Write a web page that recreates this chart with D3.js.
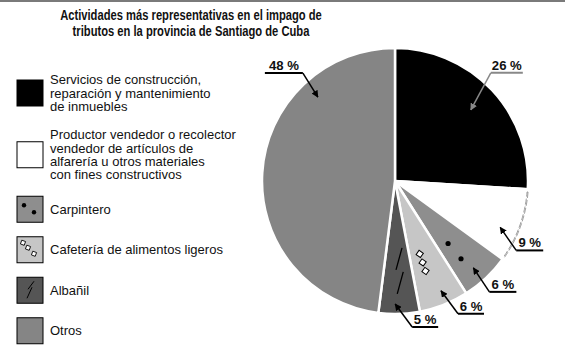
<!DOCTYPE html>
<html>
<head>
<meta charset="utf-8">
<script src="https://d3js.org/d3.v7.min.js"></script>
<style>
  body { margin: 0; background: #fff; }
  svg text { font-family: "Liberation Sans", Arial, sans-serif; }
</style>
</head>
<body>
<svg id="chart"></svg>
<script>
// data
const categories = [
  "Servicios de construcción,\nreparación y mantenimiento\nde inmuebles",
  "Productor vendedor o recolector\nvendedor de artículos  de\nalfarería u otros materiales\ncon fines constructivos",
  "Carpintero",
  "Cafetería de alimentos ligeros",
  "Albañil",
  "Otros"
];
const values = [26, 9, 6, 6, 5, 48];
const labels = ["26 %", "9 %", "6 %", "6 %", "5 %", "48 %"];
const fills = ["#000000", "#ffffff", "#8e8e8e", "#c6c6c6", "#555555", "#858585"];
const marks = ["", "", "dots", "squares", "slashes", ""];
const titleLines = ["Actividades más representativas en el impago de",
                    "tributos en la provincia de Santiago de Cuba"];

const W = 565, H = 362;
const svg = d3.select("#chart").attr("width", W).attr("height", H);

// squeeze a text group horizontally around x0 by factor k
function squeeze(sel, x0, k) {
  sel.attr("transform", `translate(${x0},0) scale(${k},1) translate(${-x0},0)`);
}
function widest(sel) {
  let w = 0;
  sel.selectAll("text").each(function () { w = Math.max(w, this.getComputedTextLength()); });
  return w;
}

// top border
svg.append("rect").attr("x", 0).attr("y", 0).attr("width", W).attr("height", 2).attr("fill", "#7a7a7a");

// title
const title = svg.append("g");
title.selectAll("text")
  .data(titleLines)
  .enter().append("text")
  .attr("x", 191)
  .attr("y", (d, i) => 20.5 + i * 16)
  .attr("text-anchor", "middle")
  .attr("font-size", 14.5)
  .attr("font-weight", "bold")
  .attr("fill", "#111")
  .text(d => d);
squeeze(title, 191, 262 / widest(title));

// arrow markers
const defs = svg.append("defs");
["#000", "#888"].forEach((c, i) => {
  defs.append("marker")
    .attr("id", "arr" + i)
    .attr("viewBox", "0 0 10 10")
    .attr("refX", 9).attr("refY", 5)
    .attr("markerWidth", 7).attr("markerHeight", 7)
    .attr("markerUnits", "userSpaceOnUse")
    .attr("orient", "auto")
    .append("path").attr("d", "M0,0 L10,5 L0,10 z").attr("fill", c);
});

// pie
const cx = 395, cy = 181, R = 133;
const pie = d3.pie().sort(null).value(d => d);
const arcs = pie(values);
const arc = d3.arc().innerRadius(0).outerRadius(R);
const g = svg.append("g").attr("transform", `translate(${cx},${cy})`);

g.selectAll("path.slice")
  .data(arcs)
  .enter().append("path")
  .attr("class", "slice")
  .attr("d", arc)
  .attr("fill", (d, i) => fills[i])
  .attr("stroke", "#fff")
  .attr("stroke-width", 2.5)
  .attr("stroke-linejoin", "round");

// dashed rim on the white slice
const rim = d3.arc().innerRadius(R - 0.5).outerRadius(R + 0.5);
g.append("path")
  .attr("d", rim({ startAngle: arcs[1].startAngle + 0.02, endAngle: arcs[1].endAngle - 0.02 }))
  .attr("fill", "none")
  .attr("stroke", "#888")
  .attr("stroke-width", 0.8)
  .attr("stroke-dasharray", "6,2");

// polar helper: angle clockwise from north
const pt = (a, r) => [Math.sin(a) * r, -Math.cos(a) * r];
const mid = d => (d.startAngle + d.endAngle) / 2;

// marks inside slices
arcs.forEach((d, i) => {
  const a = mid(d) + 0.05;
  if (marks[i] === "dots") {
    [82, 102].forEach(r => {
      const p = pt(a, r);
      g.append("circle").attr("cx", p[0]).attr("cy", p[1]).attr("r", 2.6).attr("fill", "#000");
    });
  } else if (marks[i] === "squares") {
    [77, 86, 95].forEach(r => {
      const p = pt(a, r);
      g.append("rect").attr("x", -2.6).attr("y", -2.6).attr("width", 5.2).attr("height", 5.2)
        .attr("transform", `translate(${p[0]},${p[1]}) rotate(35)`)
        .attr("fill", "#fff").attr("stroke", "#000").attr("stroke-width", 1);
    });
  } else if (marks[i] === "slashes") {
    [78, 102].forEach(r => {
      const p = pt(mid(d) - 0.02, r);
      g.append("line")
        .attr("x1", p[0] + 3).attr("y1", p[1] - 11)
        .attr("x2", p[0] - 3).attr("y2", p[1] + 11)
        .attr("stroke", "#000").attr("stroke-width", 1.3);
    });
  }
});

// callouts: tip angle shift, tip radius, tail offset from tip, underline side
const callouts = [
  { da: 0,     r: 104, dx: 20,  dy: -37, side: 1,  len: 32, color: 1 },
  { da: 0.07,  r: 115, dx: 16,  dy: 23,  side: 1,  len: 27, color: 0 },
  { da: 0.02,  r: 117, dx: 16,  dy: 24,  side: 1,  len: 27, color: 0 },
  { da: -0.02, r: 119, dx: 17,  dy: 23,  side: 1,  len: 26, color: 0 },
  { da: 0.03,  r: 123, dx: 17,  dy: 23,  side: 1,  len: 26, color: 0 },
  { da: 0.765, r: 114, dx: -15, dy: -24, side: -1, len: 38, color: 0 }
];

const labG = g.append("g");
arcs.forEach((d, i) => {
  const c = callouts[i];
  const tip = pt(mid(d) + c.da, c.r);
  const tail = [tip[0] + c.dx, tip[1] + c.dy];
  const col = c.color ? "#888" : "#000";
  g.append("line")
    .attr("x1", tail[0]).attr("y1", tail[1])
    .attr("x2", tip[0]).attr("y2", tip[1])
    .attr("stroke", col).attr("stroke-width", 1.5)
    .attr("marker-end", `url(#arr${c.color})`);
  const xEnd = tail[0] + c.side * c.len;
  g.append("line")
    .attr("x1", tail[0]).attr("y1", tail[1])
    .attr("x2", xEnd).attr("y2", tail[1])
    .attr("stroke", col).attr("stroke-width", 2);
  const lab = labG.append("g").attr("class", "lab").datum((tail[0] + xEnd) / 2);
  lab.append("text")
    .attr("x", (tail[0] + xEnd) / 2)
    .attr("y", tail[1] - 3)
    .attr("text-anchor", "middle")
    .attr("font-size", 13.5)
    .attr("font-weight", "bold")
    .attr("fill", "#111")
    .text(labels[i]);
});
// one squeeze factor for all percentage labels, fitted to the widest
const kP = 30 / widest(labG);
labG.selectAll("g.lab").each(function (x0) { squeeze(d3.select(this), x0, kP); });

// legend
const lineH = 13.5, boxS = 26, gap = 14.5;
const lines = categories.map(s => s.split("\n"));
const heights = lines.map(l => Math.max(boxS, l.length * lineH));
const centers = [];
heights.forEach((h, i) => {
  centers.push(i === 0 ? 93 : centers[i - 1] + heights[i - 1] / 2 + gap + h / 2);
});

const leg = svg.append("g").selectAll("g")
  .data(categories)
  .enter().append("g")
  .attr("transform", (d, i) => `translate(17,${centers[i]})`);

leg.append("rect")
  .attr("x", 0).attr("y", -boxS / 2)
  .attr("width", boxS).attr("height", boxS)
  .attr("fill", (d, i) => fills[i])
  .attr("stroke", "#000").attr("stroke-width", 1);

leg.each(function (d, i) {
  const el = d3.select(this);
  if (marks[i] === "dots") {
    el.append("circle").attr("cx", 7).attr("cy", -4).attr("r", 2.2).attr("fill", "#000");
    el.append("circle").attr("cx", 17).attr("cy", 3).attr("r", 2.2).attr("fill", "#000");
  } else if (marks[i] === "squares") {
    [[6, -7], [11, -2], [17, 4]].forEach(p => {
      el.append("rect").attr("x", -2).attr("y", -2).attr("width", 4).attr("height", 4)
        .attr("transform", `translate(${p[0]},${p[1]}) rotate(20)`)
        .attr("fill", "#fff").attr("stroke", "#000").attr("stroke-width", 0.8);
    });
  } else if (marks[i] === "slashes") {
    el.append("line").attr("x1", 17).attr("y1", -9).attr("x2", 11).attr("y2", -1).attr("stroke", "#000").attr("stroke-width", 1);
    el.append("line").attr("x1", 15).attr("y1", -3).attr("x2", 10).attr("y2", 8).attr("stroke", "#000").attr("stroke-width", 1);
  }
});

const legText = leg.append("g");
legText.each(function (d, i) {
  const n = lines[i].length;
  d3.select(this).selectAll("text")
    .data(lines[i])
    .enter().append("text")
    .attr("x", 33)
    .attr("y", (t, j) => (j - (n - 1) / 2) * lineH + 4.5)
    .attr("font-size", 12)
    .attr("fill", "#111")
    .text(t => t);
});
// all legend text shares one squeeze factor, fitted to the longest line
let maxW = 0;
legText.each(function () { maxW = Math.max(maxW, widest(d3.select(this))); });
legText.each(function () { squeeze(d3.select(this), 33, 186 / maxW); });
</script>
</body>
</html>
